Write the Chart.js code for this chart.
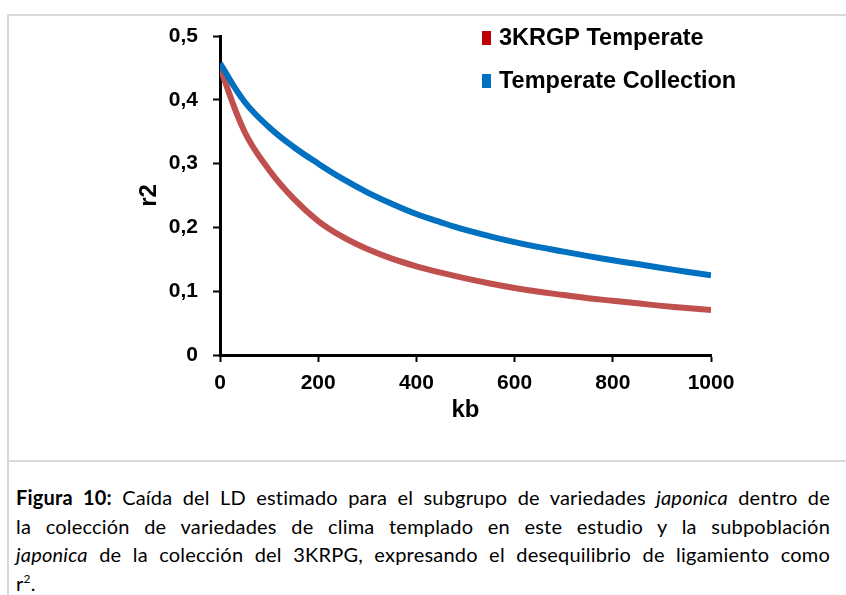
<!DOCTYPE html>
<html>
<head>
<meta charset="utf-8">
<script src="https://cdn.jsdelivr.net/npm/chart.js@4.4.1/dist/chart.umd.min.js"></script>
<style>
  html, body { margin: 0; padding: 0; background: #fff; }
  body { width: 846px; height: 595px; overflow: hidden; position: relative; }
  #frame { position: absolute; left: 7px; top: 14px; width: 860px; height: 620px;
           border-top: 2px solid #d9d9d9; border-left: 2px solid #d9d9d9; }
  #chartBox { position: absolute; left: 9px; top: 16px; width: 837px; height: 444px; }
  #divider { position: absolute; left: 9px; top: 460px; width: 837px; height: 2px; background: #d9d9d9; }
  #caption { position: absolute; left: 16px; top: 483px; width: 814px;
             font-family: Lato, "Open Sans", sans-serif; font-size: 20px; letter-spacing: 0.2px;
             line-height: 28.5px; color: #000; }
  #caption .j { text-align: justify; text-align-last: justify; }
  #caption sup { font-size: 12px; line-height: 0; vertical-align: 8px; }
</style>
</head>
<body>
<div id="frame"></div>
<div id="chartBox"><canvas id="ldChart" width="837" height="444"></canvas></div>
<div id="divider"></div>
<div id="caption">
  <div class="j"><b>Figura 10:</b> Caída del LD estimado para el subgrupo de variedades <i>japonica</i> dentro de</div>
  <div class="j">la colección de variedades de clima templado en este estudio y la subpoblación</div>
  <div class="j"><i>japonica</i> de la colección del 3KRPG, expresando el desequilibrio de ligamiento como</div>
  <div>r<sup>2</sup>.</div>
</div>
<script>
// Physical distance (kb) at which r2 is given
const kb = [0, 50, 100, 150, 200, 250, 300, 350, 400, 450, 500,
            550, 600, 650, 700, 750, 800, 850, 900, 950, 1000];

// LD decay, r2, per population
const r2Krgp3Temperate = [0.450, 0.350, 0.290, 0.245, 0.210, 0.185, 0.166, 0.151, 0.139, 0.129, 0.120,
                          0.112, 0.105, 0.099, 0.094, 0.089, 0.085, 0.081, 0.077, 0.0735, 0.0705];
const r2TemperateCollection = [0.457, 0.397, 0.357, 0.326, 0.300, 0.276, 0.255, 0.237, 0.221, 0.208, 0.196,
                               0.186, 0.177, 0.169, 0.162, 0.155, 0.1485, 0.1425, 0.1365, 0.1305, 0.125];

const seriesNames = ['3KRGP Temperate', 'Temperate Collection'];
const xTickLabels = ['0', '200', '400', '600', '800', '1000'];
const yTickLabels = ['0', '0,1', '0,2', '0,3', '0,4', '0,5'];

const tickFont = { family: '"Liberation Sans", Arial, sans-serif', weight: 'bold', size: 21 };
const titleFont = { family: '"Liberation Sans", Arial, sans-serif', weight: 'bold', size: 24 };

const toPoints = (ys) => kb.map((x, i) => ({ x: x, y: ys[i] }));

// Two-row key drawn inside the upper right of the plot
const sideLegend = {
  id: 'sideLegend',
  afterDraw(chart, args, opts) {
    const ctx = chart.ctx;
    ctx.save();
    ctx.font = 'bold ' + opts.size + 'px "Liberation Sans", Arial, sans-serif';
    ctx.textBaseline = 'middle';
    ctx.textAlign = 'left';
    chart.data.datasets.forEach((ds, i) => {
      const y = opts.y + i * opts.rowGap;
      ctx.fillStyle = ds.legendColor;
      ctx.fillRect(opts.x, y - opts.boxH / 2, opts.boxW, opts.boxH);
      ctx.fillStyle = '#000';
      ctx.fillText(ds.label, opts.x + opts.boxW + opts.gap, y + 1);
    });
    ctx.restore();
  }
};

new Chart(document.getElementById('ldChart'), {
  type: 'line',
  data: {
    datasets: [
      {
        label: seriesNames[0],
        data: toPoints(r2Krgp3Temperate),
        borderColor: '#c0504d',
        legendColor: '#c00000',
        borderWidth: 6,
        pointRadius: 0,
        fill: false,
        tension: 0.4,
        order: 1
      },
      {
        label: seriesNames[1],
        data: toPoints(r2TemperateCollection),
        borderColor: '#0070c0',
        legendColor: '#0070c0',
        borderWidth: 6,
        pointRadius: 0,
        fill: false,
        tension: 0.4,
        order: 0
      }
    ]
  },
  options: {
    responsive: false,
    animation: false,
    devicePixelRatio: 1,
    layout: { padding: { left: 0, top: 20, right: 135, bottom: 0 } },
    plugins: {
      legend: { display: false },
      tooltip: { enabled: false },
      sideLegend: { x: 473, y: 22, rowGap: 43, boxW: 9, boxH: 14, gap: 8, size: 23.5 }
    },
    scales: {
      x: {
        type: 'linear',
        min: 0,
        max: 1000,
        ticks: {
          stepSize: 200,
          color: '#000',
          font: tickFont,
          padding: 9,
          maxRotation: 0,
          callback: (v, i) => xTickLabels[i]
        },
        grid: { display: true, drawOnChartArea: false, drawTicks: true, tickLength: 7, tickColor: '#000', tickWidth: 2 },
        border: { display: true, color: '#000', width: 3 },
        title: { display: true, text: 'kb', color: '#000', font: titleFont, padding: { top: 0, bottom: 35 } },
        afterFit(scale) { scale.height = 105; }
      },
      y: {
        type: 'linear',
        min: 0,
        max: 0.5,
        ticks: {
          stepSize: 0.1,
          color: '#000',
          font: tickFont,
          padding: 15,
          callback: (v, i) => yTickLabels[i]
        },
        grid: { display: true, drawOnChartArea: false, drawTicks: true, tickLength: 7, tickColor: '#000', tickWidth: 2 },
        border: { display: true, color: '#000', width: 3 },
        title: { display: true, text: 'r2', color: '#000', font: titleFont, padding: { top: 126, bottom: 0 } },
        afterFit(scale) {
          scale.width = 211;
          scale.paddingTop = 0;
          scale.paddingBottom = 0;
        }
      }
    }
  },
  plugins: [sideLegend]
});
</script>
</body>
</html>
